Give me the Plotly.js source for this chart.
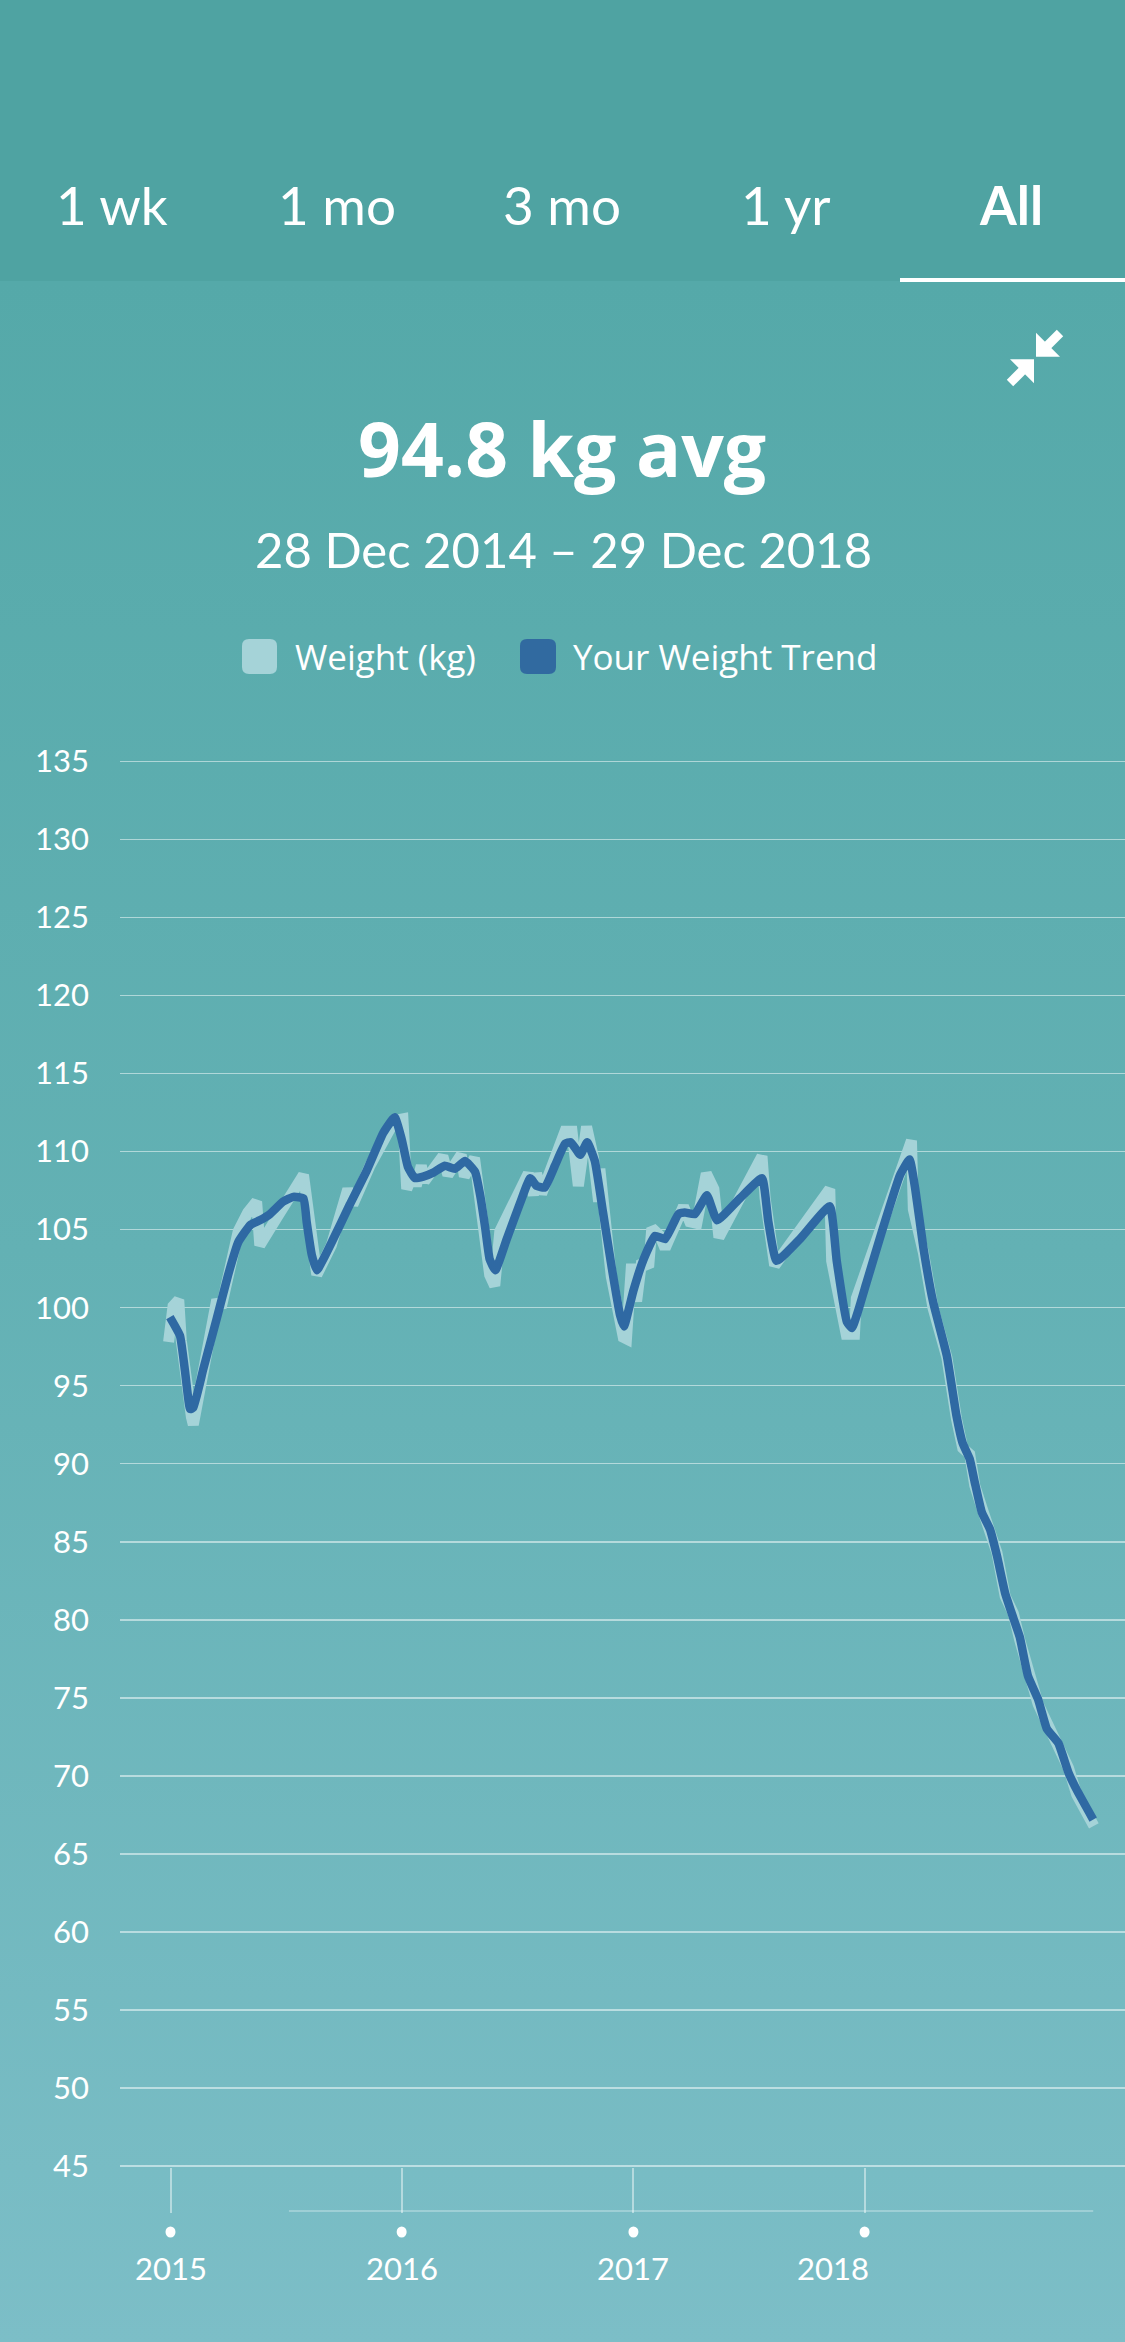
<!DOCTYPE html>
<html>
<head>
<meta charset="utf-8">
<script src="https://cdn.plot.ly/plotly-3.0.1.min.js"></script>
<style>
html,body{margin:0;padding:0;}
body{width:1125px;height:2342px;background:linear-gradient(to bottom,#55a9a9 0px,#55a9a9 282px,#63b1b4 1250px,#7cbec7 2342px);overflow:hidden;}
#chart{width:1125px;height:2342px;}
</style>
</head>
<body>
<div id="chart"></div>
<script>
// ---- data ----
const weightDates = ['2014-12-29','2015-01-05','2015-01-14','2015-01-18','2015-02-03','2015-02-06','2015-03-15','2015-03-22','2015-04-18','2015-05-03','2015-05-17','2015-05-22','2015-06-17','2015-07-27','2015-07-30','2015-08-20','2015-09-12','2015-10-08','2015-10-16','2015-11-12','2015-12-21','2016-01-03','2016-01-09','2016-01-19','2016-01-24','2016-02-01','2016-02-06','2016-03-06','2016-03-14','2016-04-04','2016-04-09','2016-04-25','2016-05-03','2016-05-19','2016-05-27','2016-06-04','2016-07-19','2016-07-27','2016-08-01','2016-08-09','2016-09-15','2016-09-26','2016-10-06','2016-10-19','2016-10-30','2016-11-07','2016-11-09','2016-11-27','2016-12-16','2016-12-21','2016-12-29','2017-01-06','2017-01-14','2017-01-25','2017-01-30','2017-02-12','2017-02-20','2017-03-21','2017-03-31','2017-04-11','2017-04-26','2017-05-08','2017-05-16','2017-07-23','2017-07-28','2017-08-12','2017-11-07','2017-11-10','2017-12-03','2017-12-16','2017-12-19','2018-02-05','2018-03-16','2018-03-19','2018-04-04','2018-04-19','2018-05-11','2018-05-26','2018-06-05','2018-06-16','2018-06-24','2018-07-05','2018-07-18','2018-07-29','2018-08-11','2018-08-24','2018-09-03','2018-09-16','2018-10-02','2018-10-16','2018-11-03','2018-11-19','2018-12-02','2018-12-29'];
const weightKg = [97.8,100.1,100.5,97.9,93.0,92.5,100.5,100.0,104.9,106.1,106.8,104.0,105.7,108.4,108.5,102.1,104.0,107.6,106.6,109.1,112.0,112.1,107.6,108.6,107.8,109.1,108.1,109.7,108.5,109.8,108.4,109.6,106.8,102.1,101.4,104.9,108.6,107.2,108.6,107.3,111.3,111.3,107.8,111.6,109.6,106.8,108.9,102.0,98.1,98.0,102.8,100.4,103.0,102.6,105.1,104.6,103.8,106.5,105.5,105.4,108.6,107.6,104.5,109.7,107.0,102.7,107.6,103.0,98.3,98.3,100.6,106.1,110.7,106.3,103.5,100.0,96.8,92.9,91.0,90.6,88.6,87.2,85.6,84.3,81.5,80.4,78.7,76.6,74.6,73.4,71.8,70.5,68.8,66.8];

const trendDates = ['2014-12-31','2015-01-16','2015-01-24','2015-02-01','2015-02-06','2015-02-22','2015-03-15','2015-04-02','2015-04-18','2015-05-07','2015-05-22','2015-06-07','2015-06-28','2015-07-14','2015-07-30','2015-08-04','2015-08-12','2015-08-20','2015-09-15','2015-10-11','2015-11-07','2015-12-03','2015-12-21','2016-01-01','2016-01-11','2016-01-22','2016-02-04','2016-02-20','2016-03-09','2016-03-25','2016-04-10','2016-04-26','2016-05-04','2016-05-12','2016-05-19','2016-05-28','2016-06-15','2016-07-06','2016-07-22','2016-08-01','2016-08-14','2016-08-30','2016-09-15','2016-09-24','2016-10-09','2016-10-20','2016-11-01','2016-11-14','2016-11-28','2016-12-11','2016-12-17','2017-01-01','2017-01-17','2017-02-04','2017-02-20','2017-03-13','2017-03-23','2017-04-08','2017-04-27','2017-05-13','2017-06-18','2017-07-23','2017-08-02','2017-08-15','2017-09-21','2017-11-07','2017-11-18','2017-12-04','2017-12-12','2018-01-04','2018-01-30','2018-02-26','2018-03-13','2018-03-22','2018-04-04','2018-04-19','2018-05-11','2018-05-26','2018-06-05','2018-06-16','2018-06-24','2018-07-05','2018-07-18','2018-07-29','2018-08-11','2018-08-24','2018-09-03','2018-09-16','2018-10-02','2018-10-16','2018-11-03','2018-11-19','2018-12-02','2018-12-28'];
const trendKg = [99.4,98.2,95.9,93.5,93.6,96.1,99.3,102.1,104.2,105.3,105.6,106.0,106.8,107.1,107.0,105.5,103.4,102.4,104.4,106.6,108.8,111.2,112.2,110.8,109.0,108.3,108.4,108.65,109.1,108.9,109.4,108.7,107.2,105.1,103.1,102.4,104.4,106.7,108.3,107.8,107.7,109.1,110.5,110.6,109.8,110.6,109.4,106.1,102.5,99.5,98.8,101.1,103.1,104.6,104.4,106.0,106.1,106.0,107.2,105.6,107.0,108.3,105.5,103.0,104.4,106.5,103.0,99.1,98.7,101.6,105.1,108.5,109.5,107.6,103.8,100.4,96.9,93.1,91.3,90.3,88.8,86.9,85.8,84.1,81.7,80.1,78.9,76.4,74.9,73.0,72.1,70.2,69.1,67.2];

const yTicks = [45,50,55,60,65,70,75,80,85,90,95,100,105,110,115,120,125,130,135];
const yearTicks = ['2015-01-01','2016-01-01','2017-01-01','2018-01-01'];
const yearLabels = ['2015','2016','2017','2018'];
const tabLabels = ['1 wk','1 mo','3 mo','1 yr','All'];
const legendLabels = ['Weight (kg)','Your Weight Trend'];
const headline = '94.8 kg avg';
const dateRange = '28 Dec 2014 – 29 Dec 2018';

// ---- styling ----
const W = 1125, H = 2342;
const FONT = 'Lato, "Open Sans", sans-serif';
const WIDE = '"Open Sans", Lato, sans-serif';
const WEIGHT_COLOR = '#a5d3d8';
const TREND_COLOR = '#2f69a3';
const X = px => px / W;
const Y = py => 1 - py / H;
const poly = pts => 'M ' + pts.map(p => X(p[0]) + ',' + Y(p[1])).join(' L ') + ' Z';
function roundRect(x0, y0, x1, y1, r) {
  const p = (x, y) => X(x) + ',' + Y(y);
  return 'M ' + p(x0 + r, y0) + ' L ' + p(x1 - r, y0) + ' Q ' + p(x1, y0) + ' ' + p(x1, y0 + r) +
    ' L ' + p(x1, y1 - r) + ' Q ' + p(x1, y1) + ' ' + p(x1 - r, y1) +
    ' L ' + p(x0 + r, y1) + ' Q ' + p(x0, y1) + ' ' + p(x0, y1 - r) +
    ' L ' + p(x0, y0 + r) + ' Q ' + p(x0, y0) + ' ' + p(x0 + r, y0) + ' Z';
}

const traces = [
  {x: weightDates, y: weightKg, type: 'scatter', mode: 'lines', name: legendLabels[0],
   line: {color: WEIGHT_COLOR, width: 11, shape: 'linear'}, hoverinfo: 'skip'},
  {x: trendDates, y: trendKg, type: 'scatter', mode: 'lines', name: legendLabels[1],
   line: {color: TREND_COLOR, width: 8.5, shape: 'spline', smoothing: 0.4}, hoverinfo: 'skip'}
];

const shapes = [
  // header band
  {type: 'rect', xref: 'paper', yref: 'paper', x0: 0, x1: 1, y0: Y(281), y1: 1, fillcolor: '#4fa3a2', line: {width: 0}, layer: 'below'},
  // active tab underline
  {type: 'rect', xref: 'paper', yref: 'paper', x0: X(900), x1: 1, y0: Y(282), y1: Y(278), fillcolor: '#ffffff', line: {width: 0}},
  // collapse icon
  {type: 'path', xref: 'paper', yref: 'paper', path: poly([[1036,332.7],[1036,356.7],[1060,356.7]]), fillcolor: '#fff', line: {width: 0}},
  {type: 'path', xref: 'paper', yref: 'paper', path: poly([[1040.8,345.8],[1056.8,329.8],[1063.2,336.2],[1047.2,352.2]]), fillcolor: '#fff', line: {width: 0}},
  {type: 'path', xref: 'paper', yref: 'paper', path: poly([[1034,359.3],[1010,359.3],[1034,383.3]]), fillcolor: '#fff', line: {width: 0}},
  {type: 'path', xref: 'paper', yref: 'paper', path: poly([[1022.8,363.8],[1029.2,370.2],[1013.2,386.2],[1006.8,379.8]]), fillcolor: '#fff', line: {width: 0}},
  // legend swatches
  {type: 'path', xref: 'paper', yref: 'paper', path: roundRect(242, 639, 277, 674, 7), fillcolor: WEIGHT_COLOR, line: {width: 0}},
  {type: 'path', xref: 'paper', yref: 'paper', path: roundRect(520, 639, 556, 674, 7), fillcolor: '#316aa0', line: {width: 0}},
  // thin baseline under the tick marks
  {type: 'line', xref: 'x', yref: 'paper', x0: '2015-07-07', x1: trendDates[trendDates.length - 1], y0: Y(2211), y1: Y(2211), line: {color: 'rgba(255,255,255,0.28)', width: 2}}
];
// year dots
yearTicks.forEach(d => shapes.push({type: 'circle', xref: 'x', yref: 'paper', xsizemode: 'pixel', ysizemode: 'pixel',
  xanchor: d, yanchor: Y(2232), x0: -5, x1: 5, y0: -5.5, y1: 5.5, fillcolor: '#ffffff', line: {width: 0}}));

const annotations = [];
const tabX = [112, 337, 562, 786, 1011];
tabLabels.forEach((t, i) => annotations.push({text: t, xref: 'paper', yref: 'paper', x: X(tabX[i]), y: Y(205),
  xanchor: 'center', yanchor: 'middle', showarrow: false,
  font: {family: FONT, size: 53, color: '#ffffff', weight: i === 4 ? 700 : 400}}));
annotations.push({text: '<b>' + headline + '</b>', xref: 'paper', yref: 'paper', x: X(562), y: Y(448), xanchor: 'center', yanchor: 'middle',
  showarrow: false, font: {family: WIDE, size: 75, color: '#ffffff'}});
annotations.push({text: dateRange, xref: 'paper', yref: 'paper', x: X(563), y: Y(549), xanchor: 'center', yanchor: 'middle',
  showarrow: false, font: {family: FONT, size: 49, color: '#ffffff'}});
annotations.push({text: legendLabels[0], xref: 'paper', yref: 'paper', x: X(293), y: Y(656), xanchor: 'left', yanchor: 'middle',
  showarrow: false, font: {family: WIDE, size: 35, color: '#ffffff'}});
annotations.push({text: legendLabels[1], xref: 'paper', yref: 'paper', x: X(571), y: Y(656), xanchor: 'left', yanchor: 'middle',
  showarrow: false, font: {family: WIDE, size: 35, color: '#ffffff'}});
yearTicks.forEach((d, i) => annotations.push({text: yearLabels[i], xref: 'x', yref: 'paper', x: d, y: Y(2268),
  xanchor: 'center', yanchor: 'middle', xshift: i === 3 ? -32 : 0, showarrow: false,
  font: {family: FONT, size: 31, color: '#ffffff'}}));

const layout = {
  width: W, height: H,
  margin: {l: 0, r: 0, t: 0, b: 0, pad: 0},
  paper_bgcolor: 'rgba(0,0,0,0)', plot_bgcolor: 'rgba(0,0,0,0)',
  showlegend: false,
  font: {family: FONT, color: '#ffffff'},
  xaxis: {
    type: 'date', domain: [120 / W, 1], range: ['2014-10-13 06:00', '2019-02-16 05:00'],
    showgrid: false, zeroline: false, showline: false,
    tickvals: yearTicks, ticks: 'inside', ticklen: 45, tickwidth: 2, tickcolor: 'rgba(255,255,255,0.45)',
    showticklabels: false, fixedrange: true
  },
  yaxis: {
    domain: [(H - 2213) / H, 1], range: [41.99, 183.79],
    tickvals: yTicks, ticktext: yTicks.map(String), ticks: '', ticklabelstandoff: 30,
    showgrid: true, gridcolor: 'rgba(255,255,255,0.5)', gridwidth: 1.5,
    zeroline: false, showline: false, tickfont: {family: FONT, size: 31, color: '#ffffff'}, fixedrange: true
  },
  shapes: shapes,
  annotations: annotations
};

Plotly.newPlot('chart', traces, layout, {staticPlot: true, displayModeBar: false});
</script>
</body>
</html>
